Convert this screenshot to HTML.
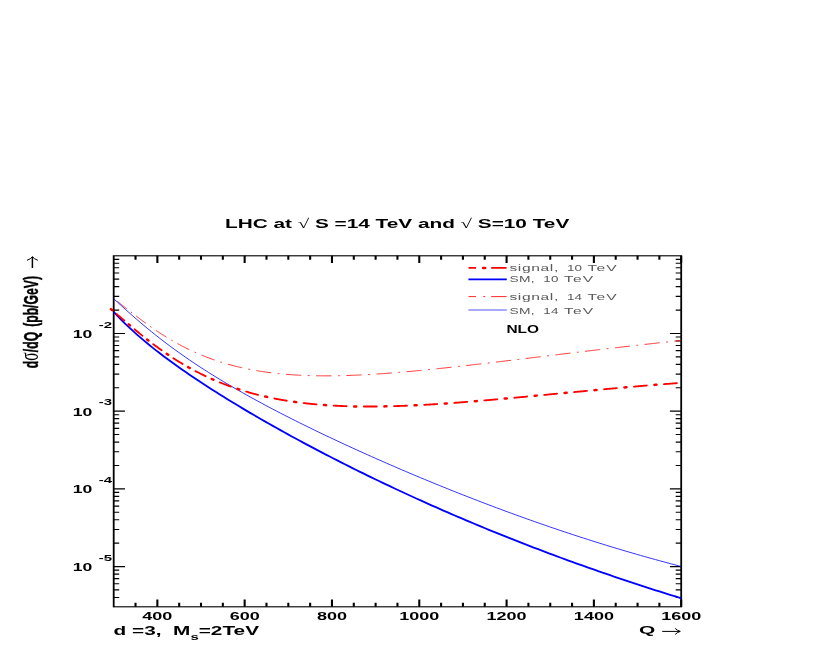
<!DOCTYPE html>
<html><head><meta charset="utf-8"><title>plot</title>
<style>html,body{margin:0;padding:0;background:#fff}svg{display:block}text{font-family:"Liberation Sans",sans-serif}.sy{font-family:"Liberation Serif",serif;font-weight:normal}</style></head>
<body>
<svg width="817" height="654" viewBox="0 0 817 654" style="will-change:transform">
<rect width="817" height="654" fill="#fff"/>
<clipPath id="cpp"><rect x="113.7" y="255.8" width="567.5" height="351"/></clipPath>
<g transform="scale(1.6,1)" fill="none" stroke-linecap="butt">
<rect x="71.06" y="255.8" width="354.69" height="351" stroke="#000" stroke-width="1.12"/>
<path d="M84.7 606.8v-4M84.7 255.8v4M98.35 606.8v-7.3M98.35 255.8v7.3M111.99 606.8v-4M111.99 255.8v4M125.63 606.8v-4M125.63 255.8v4M139.27 606.8v-4M139.27 255.8v4M152.91 606.8v-7.3M152.91 255.8v7.3M166.56 606.8v-4M166.56 255.8v4M180.2 606.8v-4M180.2 255.8v4M193.84 606.8v-4M193.84 255.8v4M207.48 606.8v-7.3M207.48 255.8v7.3M221.12 606.8v-4M221.12 255.8v4M234.76 606.8v-4M234.76 255.8v4M248.41 606.8v-4M248.41 255.8v4M262.05 606.8v-7.3M262.05 255.8v7.3M275.69 606.8v-4M275.69 255.8v4M289.33 606.8v-4M289.33 255.8v4M302.97 606.8v-4M302.97 255.8v4M316.62 606.8v-7.3M316.62 255.8v7.3M330.26 606.8v-4M330.26 255.8v4M343.9 606.8v-4M343.9 255.8v4M357.54 606.8v-4M357.54 255.8v4M371.18 606.8v-7.3M371.18 255.8v7.3M384.82 606.8v-4M384.82 255.8v4M398.47 606.8v-4M398.47 255.8v4M412.11 606.8v-4M412.11 255.8v4M425.75 606.8v-7.3M425.75 255.8v7.3" stroke="#000" stroke-width="1.3"/>
<path d="M71.06 597.47h3.44M425.75 597.47h-3.44M71.06 589.94h3.44M425.75 589.94h-3.44M71.06 583.79h3.44M425.75 583.79h-3.44M71.06 578.59h3.44M425.75 578.59h-3.44M71.06 574.08h3.44M425.75 574.08h-3.44M71.06 570.11h3.44M425.75 570.11h-3.44M71.06 566.55h7.06M425.75 566.55h-7.06M71.06 543.16h3.44M425.75 543.16h-3.44M71.06 529.48h3.44M425.75 529.48h-3.44M71.06 519.77h3.44M425.75 519.77h-3.44M71.06 512.24h3.44M425.75 512.24h-3.44M71.06 506.09h3.44M425.75 506.09h-3.44M71.06 500.89h3.44M425.75 500.89h-3.44M71.06 496.38h3.44M425.75 496.38h-3.44M71.06 492.41h3.44M425.75 492.41h-3.44M71.06 488.85h7.06M425.75 488.85h-7.06M71.06 465.46h3.44M425.75 465.46h-3.44M71.06 451.78h3.44M425.75 451.78h-3.44M71.06 442.07h3.44M425.75 442.07h-3.44M71.06 434.54h3.44M425.75 434.54h-3.44M71.06 428.39h3.44M425.75 428.39h-3.44M71.06 423.19h3.44M425.75 423.19h-3.44M71.06 418.68h3.44M425.75 418.68h-3.44M71.06 414.71h3.44M425.75 414.71h-3.44M71.06 411.15h7.06M425.75 411.15h-7.06M71.06 387.76h3.44M425.75 387.76h-3.44M71.06 374.08h3.44M425.75 374.08h-3.44M71.06 364.37h3.44M425.75 364.37h-3.44M71.06 356.84h3.44M425.75 356.84h-3.44M71.06 350.69h3.44M425.75 350.69h-3.44M71.06 345.49h3.44M425.75 345.49h-3.44M71.06 340.98h3.44M425.75 340.98h-3.44M71.06 337.01h3.44M425.75 337.01h-3.44M71.06 333.45h7.06M425.75 333.45h-7.06M71.06 310.06h3.44M425.75 310.06h-3.44M71.06 296.38h3.44M425.75 296.38h-3.44M71.06 286.67h3.44M425.75 286.67h-3.44M71.06 279.14h3.44M425.75 279.14h-3.44M71.06 272.99h3.44M425.75 272.99h-3.44M71.06 267.79h3.44M425.75 267.79h-3.44M71.06 263.28h3.44M425.75 263.28h-3.44M71.06 259.31h3.44M425.75 259.31h-3.44" stroke="#000" stroke-width="1.15"/>
</g>
<g fill="none" clip-path="url(#cpp)">
<path d="M111.73 297.24 L111.95 297.4 L112.9 298.09 L112.98 298.15M117.13 301.26 L117.66 301.67 L118.62 302.39 L119.57 303.13 L120.52 303.86 L121.47 304.6 L122.42 305.34 L123.37 306.08 L124.33 306.82 L125.28 307.56 L126.23 308.31 L126.78 308.73M130.84 311.9 L130.99 312.02 L131.94 312.76 L132.04 312.83M136.13 315.98 L136.7 316.42 L137.65 317.15 L138.61 317.87 L139.56 318.59 L140.51 319.31 L141.46 320.02 L142.41 320.73 L143.37 321.43 L144.32 322.13 L145.27 322.83 L145.98 323.35M150.24 326.4 L150.98 326.93 L151.52 327.3M155.88 330.3 L156.69 330.85 L157.64 331.49 L158.6 332.12 L159.55 332.75 L160.5 333.37 L161.45 333.98 L162.4 334.6 L163.36 335.2 L164.31 335.8 L165.26 336.4 L166.21 336.99 L166.56 337.2M171.24 340.01 L171.92 340.41 L172.64 340.83M177.46 343.55 L177.63 343.64 L178.59 344.16 L179.54 344.68 L180.49 345.19 L181.44 345.69 L182.39 346.19 L183.35 346.68 L184.3 347.17 L185.25 347.65 L186.2 348.13 L187.15 348.6 L188.11 349.06 L189.06 349.53 L189.31 349.65M194.52 352.07 L194.77 352.18 L195.72 352.61 L196.08 352.77M201.43 355.05 L202.38 355.44 L203.34 355.83 L204.29 356.21 L205.24 356.59 L206.19 356.96 L207.14 357.32 L208.1 357.68 L209.05 358.04 L210 358.39 L210.95 358.74 L211.9 359.09 L212.86 359.42 L213.81 359.76 L214.57 360.02M220.31 361.92 L220.47 361.97 L221.42 362.27 L222.02 362.46M227.89 364.19 L228.09 364.25 L229.04 364.52 L229.99 364.78 L230.94 365.04 L231.89 365.29 L232.85 365.54 L233.8 365.79 L234.75 366.03 L235.7 366.27 L236.65 366.51 L237.61 366.74 L238.56 366.97 L239.51 367.19 L240.46 367.41 L241.41 367.63 L242.12 367.79M248.27 369.09 L249.03 369.24 L249.98 369.43 L250.1 369.45M256.33 370.59 L256.64 370.64 L257.6 370.8 L258.55 370.96 L259.5 371.12 L260.45 371.27 L261.4 371.42 L262.36 371.56 L263.31 371.7 L264.26 371.84 L265.21 371.98 L266.16 372.12 L267.11 372.25 L268.07 372.38 L269.02 372.5 L269.97 372.62 L270.92 372.74 L271.27 372.79M277.66 373.52 L278.54 373.61 L279.49 373.71 L279.55 373.71M285.97 374.3 L286.15 374.32 L287.11 374.4 L288.06 374.47 L289.01 374.55 L289.96 374.62 L290.91 374.69 L291.86 374.75 L292.82 374.82 L293.77 374.88 L294.72 374.94 L295.67 375 L296.62 375.05 L297.58 375.11 L298.53 375.16 L299.48 375.21 L300.43 375.25 L301.25 375.29M307.72 375.55 L308.05 375.57 L309 375.6 L309.64 375.62M316.12 375.77 L316.61 375.78 L317.57 375.79 L318.52 375.8 L319.47 375.81 L320.42 375.82 L321.37 375.83 L322.33 375.84 L323.28 375.84 L324.23 375.85 L325.18 375.85 L326.13 375.85 L327.09 375.85 L328.04 375.85 L328.99 375.84 L329.94 375.84 L330.89 375.83 L331.48 375.82M337.97 375.73 L338.51 375.72 L339.46 375.7 L339.88 375.69M346.37 375.52 L347.08 375.5 L348.03 375.47 L348.98 375.43 L349.93 375.4 L350.88 375.37 L351.84 375.33 L352.79 375.29 L353.74 375.26 L354.69 375.22 L355.64 375.18 L356.6 375.14 L357.55 375.09 L358.5 375.05 L359.45 375.01 L360.4 374.96 L361.35 374.92 L361.69 374.9M368.16 374.55 L368.97 374.51 L369.92 374.45 L370.07 374.44M376.53 374.05 L376.59 374.04 L377.54 373.98 L378.49 373.92 L379.44 373.85 L380.39 373.79 L381.35 373.72 L382.3 373.66 L383.25 373.59 L384.2 373.52 L385.15 373.45 L386.1 373.38 L387.06 373.31 L388.01 373.24 L388.96 373.17 L389.91 373.1 L390.86 373.02 L391.79 372.95M398.22 372.44 L398.48 372.41 L399.43 372.34 L400.12 372.28M406.55 371.72 L407.05 371.68 L408 371.59 L408.95 371.51 L409.9 371.42 L410.85 371.34 L411.81 371.25 L412.76 371.16 L413.71 371.08 L414.66 370.99 L415.61 370.9 L416.57 370.81 L417.52 370.72 L418.47 370.63 L419.42 370.54 L420.37 370.45 L421.33 370.35 L421.74 370.31M428.15 369.68 L428.94 369.6 L429.89 369.5 L430.05 369.49M436.45 368.83 L436.56 368.82 L437.51 368.72 L438.46 368.62 L439.41 368.52 L440.36 368.42 L441.32 368.32 L442.27 368.22 L443.22 368.12 L444.17 368.02 L445.12 367.92 L446.08 367.81 L447.03 367.71 L447.98 367.61 L448.93 367.5 L449.88 367.4 L450.84 367.3 L451.59 367.21M457.98 366.51 L458.45 366.46 L459.4 366.35 L459.87 366.3M466.26 365.58 L467.02 365.49 L467.97 365.38 L468.92 365.27 L469.87 365.16 L470.83 365.05 L471.78 364.94 L472.73 364.83 L473.68 364.73 L474.63 364.62 L475.59 364.51 L476.54 364.39 L477.49 364.28 L478.44 364.17 L479.39 364.06 L480.34 363.95 L481.3 363.84 L481.36 363.83M487.74 363.08 L487.96 363.06 L488.91 362.94 L489.62 362.86M496 362.1 L496.53 362.04 L497.48 361.93 L498.43 361.81 L499.38 361.7 L500.34 361.59 L501.29 361.47 L502.24 361.36 L503.19 361.24 L504.14 361.13 L505.09 361.01 L506.05 360.9 L507 360.79 L507.95 360.67 L508.9 360.56 L509.85 360.44 L510.81 360.33 L511.08 360.29M517.45 359.52 L517.47 359.52 L518.42 359.41 L519.34 359.3M525.71 358.52 L526.04 358.48 L526.99 358.37 L527.94 358.25 L528.89 358.14 L529.84 358.02 L530.8 357.9 L531.75 357.79 L532.7 357.67 L533.65 357.56 L534.6 357.44 L535.56 357.33 L536.51 357.21 L537.46 357.09 L538.41 356.98 L539.36 356.86 L540.32 356.75 L540.78 356.69M547.15 355.92 L547.93 355.82 L548.88 355.71 L549.04 355.69M555.4 354.91 L555.55 354.9 L556.5 354.78 L557.45 354.67 L558.4 354.55 L559.35 354.43 L560.31 354.32 L561.26 354.2 L562.21 354.09 L563.16 353.97 L564.11 353.86 L565.07 353.74 L566.02 353.63 L566.97 353.51 L567.92 353.4 L568.87 353.28 L569.83 353.17 L570.49 353.09M576.86 352.32 L577.44 352.25 L578.39 352.14 L578.74 352.1M585.11 351.33 L586.01 351.23 L586.96 351.11 L587.91 351 L588.86 350.89 L589.82 350.77 L590.77 350.66 L591.72 350.55 L592.67 350.43 L593.62 350.32 L594.58 350.21 L595.53 350.1 L596.48 349.98 L597.43 349.87 L598.38 349.76 L599.33 349.65 L600.2 349.54M606.58 348.79 L606.95 348.75 L607.9 348.64 L608.47 348.57M614.85 347.83 L615.52 347.75 L616.47 347.64 L617.42 347.53 L618.37 347.42 L619.33 347.31 L620.28 347.2 L621.23 347.09 L622.18 346.98 L623.13 346.87 L624.08 346.76 L625.04 346.65 L625.99 346.54 L626.94 346.43 L627.89 346.32 L628.84 346.21 L629.8 346.11 L629.95 346.09M636.33 345.36 L636.46 345.35 L637.41 345.24 L638.22 345.15M644.61 344.43 L645.03 344.38 L645.98 344.27 L646.93 344.17 L647.88 344.06 L648.83 343.96 L649.79 343.85 L650.74 343.74 L651.69 343.64 L652.64 343.53 L653.59 343.43 L654.55 343.32 L655.5 343.22 L656.45 343.11 L657.4 343.01 L658.35 342.9 L659.31 342.8 L659.73 342.75M666.12 342.05 L666.92 341.96 L667.87 341.86 L668.01 341.84M674.41 341.15 L674.54 341.14 L675.49 341.04 L676.44 340.94 L677.39 340.83 L678.34 340.73 L679.3 340.63 L680.25 340.53 L681.2 340.43" stroke="#ff0000" stroke-width="0.8"/>
<path d="M113.7 298.71 L117.49 302.18 L121.28 305.64 L125.07 309.06 L128.86 312.46 L132.65 315.81 L136.44 319.11 L140.23 322.37 L144.02 325.57 L147.81 328.72 L151.6 331.82 L155.39 334.86 L159.18 337.85 L162.97 340.78 L166.76 343.66 L170.54 346.5 L174.33 349.28 L178.12 352.01 L181.91 354.7 L185.7 357.35 L189.49 359.95 L193.28 362.51 L197.07 365.03 L200.86 367.51 L204.65 369.95 L208.44 372.36 L212.23 374.74 L216.02 377.08 L219.81 379.39 L223.6 381.68 L227.39 383.93 L231.18 386.16 L234.97 388.36 L238.76 390.54 L242.55 392.69 L246.34 394.82 L250.13 396.93 L253.92 399.02 L257.71 401.08 L261.5 403.13 L265.29 405.16 L269.08 407.17 L272.87 409.16 L276.65 411.14 L280.44 413.1 L284.23 415.05 L288.02 416.98 L291.81 418.9 L295.6 420.8 L299.39 422.7 L303.18 424.57 L306.97 426.44 L310.76 428.29 L314.55 430.13 L318.34 431.96 L322.13 433.78 L325.92 435.59 L329.71 437.38 L333.5 439.17 L337.29 440.95 L341.08 442.71 L344.87 444.47 L348.66 446.22 L352.45 447.95 L356.24 449.68 L360.03 451.4 L363.82 453.11 L367.61 454.81 L371.4 456.51 L375.19 458.19 L378.98 459.87 L382.77 461.53 L386.55 463.19 L390.34 464.84 L394.13 466.48 L397.92 468.12 L401.71 469.74 L405.5 471.36 L409.29 472.97 L413.08 474.57 L416.87 476.16 L420.66 477.75 L424.45 479.32 L428.24 480.89 L432.03 482.45 L435.82 484 L439.61 485.55 L443.4 487.09 L447.19 488.61 L450.98 490.14 L454.77 491.65 L458.56 493.15 L462.35 494.65 L466.14 496.14 L469.93 497.62 L473.72 499.09 L477.51 500.55 L481.3 502.01 L485.09 503.46 L488.88 504.9 L492.66 506.33 L496.45 507.75 L500.24 509.17 L504.03 510.57 L507.82 511.97 L511.61 513.36 L515.4 514.74 L519.19 516.11 L522.98 517.48 L526.77 518.83 L530.56 520.18 L534.35 521.52 L538.14 522.85 L541.93 524.17 L545.72 525.48 L549.51 526.79 L553.3 528.08 L557.09 529.37 L560.88 530.65 L564.67 531.92 L568.46 533.18 L572.25 534.43 L576.04 535.67 L579.83 536.9 L583.62 538.13 L587.41 539.34 L591.2 540.55 L594.99 541.75 L598.78 542.93 L602.56 544.11 L606.35 545.28 L610.14 546.44 L613.93 547.59 L617.72 548.73 L621.51 549.87 L625.3 550.99 L629.09 552.1 L632.88 553.21 L636.67 554.3 L640.46 555.39 L644.25 556.46 L648.04 557.53 L651.83 558.59 L655.62 559.64 L659.41 560.67 L663.2 561.7 L666.99 562.72 L670.78 563.73 L674.57 564.73 L678.36 565.72 L681.2 566.45" stroke="#0000ff" stroke-width="0.8"/>
<path d="M113.7 311.91 L117.49 315.94 L121.28 319.82 L125.07 323.57 L128.86 327.18 L132.65 330.69 L136.44 334.09 L140.23 337.4 L144.02 340.63 L147.81 343.77 L151.6 346.85 L155.39 349.86 L159.18 352.81 L162.97 355.7 L166.76 358.54 L170.54 361.34 L174.33 364.09 L178.12 366.79 L181.91 369.46 L185.7 372.1 L189.49 374.69 L193.28 377.26 L197.07 379.8 L200.86 382.31 L204.65 384.79 L208.44 387.24 L212.23 389.67 L216.02 392.08 L219.81 394.46 L223.6 396.83 L227.39 399.17 L231.18 401.49 L234.97 403.8 L238.76 406.08 L242.55 408.35 L246.34 410.6 L250.13 412.84 L253.92 415.06 L257.71 417.26 L261.5 419.45 L265.29 421.62 L269.08 423.78 L272.87 425.92 L276.65 428.05 L280.44 430.17 L284.23 432.27 L288.02 434.36 L291.81 436.44 L295.6 438.5 L299.39 440.56 L303.18 442.6 L306.97 444.63 L310.76 446.64 L314.55 448.65 L318.34 450.64 L322.13 452.62 L325.92 454.59 L329.71 456.55 L333.5 458.5 L337.29 460.43 L341.08 462.36 L344.87 464.28 L348.66 466.18 L352.45 468.07 L356.24 469.96 L360.03 471.83 L363.82 473.69 L367.61 475.55 L371.4 477.39 L375.19 479.22 L378.98 481.04 L382.77 482.86 L386.55 484.66 L390.34 486.45 L394.13 488.23 L397.92 490.01 L401.71 491.77 L405.5 493.53 L409.29 495.27 L413.08 497 L416.87 498.73 L420.66 500.45 L424.45 502.15 L428.24 503.85 L432.03 505.54 L435.82 507.22 L439.61 508.89 L443.4 510.55 L447.19 512.2 L450.98 513.84 L454.77 515.48 L458.56 517.1 L462.35 518.72 L466.14 520.32 L469.93 521.92 L473.72 523.51 L477.51 525.09 L481.3 526.66 L485.09 528.23 L488.88 529.78 L492.66 531.33 L496.45 532.87 L500.24 534.4 L504.03 535.92 L507.82 537.43 L511.61 538.94 L515.4 540.43 L519.19 541.92 L522.98 543.4 L526.77 544.87 L530.56 546.33 L534.35 547.79 L538.14 549.23 L541.93 550.67 L545.72 552.1 L549.51 553.53 L553.3 554.94 L557.09 556.35 L560.88 557.75 L564.67 559.14 L568.46 560.52 L572.25 561.9 L576.04 563.27 L579.83 564.63 L583.62 565.98 L587.41 567.32 L591.2 568.66 L594.99 569.99 L598.78 571.31 L602.56 572.63 L606.35 573.93 L610.14 575.23 L613.93 576.53 L617.72 577.81 L621.51 579.09 L625.3 580.36 L629.09 581.62 L632.88 582.88 L636.67 584.13 L640.46 585.37 L644.25 586.6 L648.04 587.83 L651.83 589.05 L655.62 590.26 L659.41 591.47 L663.2 592.67 L666.99 593.86 L670.78 595.05 L674.57 596.23 L678.36 597.4 L681.2 598.27" stroke="#0000ff" stroke-width="1.85"/>
</g>
<path d="M111 309.15 L111.95 309.96 L112.18 310.16M128.75 324.41 L129.02 324.63 L129.96 325.44 L129.98 325.45M147.09 339.45 L147.98 340.14 L148.39 340.46M166.73 353.82 L166.95 353.97 L167.89 354.61 L168.14 354.78M188.19 367.15 L188.76 367.47 L189.7 368 L189.74 368.01M211.77 378.98 L212.46 379.29 L213.41 379.7 L213.47 379.73M237.52 388.88 L238.07 389.06 L239.01 389.37 L239.36 389.48M265.17 396.52 L265.56 396.61 L266.51 396.83 L267.12 396.96M294.18 401.84 L294.96 401.95 L295.91 402.08 L296.21 402.12M323.99 405.01 L324.36 405.04 L325.3 405.11 L326.06 405.16M354.16 406.4 L354.7 406.41 L355.65 406.43 L356.24 406.44M384.41 406.39 L385.04 406.37 L385.99 406.35 L386.49 406.34M414.62 405.33 L415.39 405.3 L416.34 405.25 L416.69 405.23M444.74 403.54 L444.78 403.54 L445.73 403.47 L446.68 403.41 L446.8 403.4M474.77 401.24 L475.13 401.21 L476.08 401.13 L476.83 401.07M504.73 398.62 L505.47 398.56 L506.42 398.47 L506.79 398.44M534.65 395.83 L534.87 395.81 L535.81 395.72 L536.71 395.63M564.56 392.98 L565.21 392.92 L566.16 392.83 L566.62 392.78M594.48 390.16 L594.61 390.15 L595.55 390.06 L596.5 389.97 L596.54 389.97M624.43 387.45 L624.95 387.41 L625.9 387.33 L626.49 387.27M654.41 384.92 L655.29 384.85 L656.24 384.77 L656.47 384.75" fill="none" stroke="#ff0000" stroke-width="2.5" stroke-linecap="round"/>
<path d="M116.66 314.01 L116.69 314.03 L117.64 314.85 L118.59 315.67 L119.53 316.49 L120.48 317.31 L121.43 318.13 L122.38 318.94 L123.33 319.76 L124.26 320.57M134.52 329.27 L134.71 329.43 L135.65 330.22 L136.6 331 L137.55 331.78 L138.5 332.56 L139.45 333.34 L140.4 334.11 L141.34 334.88 L142.29 335.64 L142.38 335.71M153.21 344.14 L153.67 344.49 L154.62 345.2 L155.57 345.9 L156.52 346.6 L157.46 347.29 L158.41 347.98 L159.36 348.67 L160.31 349.35 L161.26 350.02 L161.64 350.29M173.38 358.22 L173.58 358.35 L174.53 358.96 L175.48 359.56 L176.43 360.16 L177.38 360.75 L178.33 361.34 L179.27 361.92 L180.22 362.49 L181.17 363.07 L182.12 363.63 L182.6 363.92M195.5 371.12 L196.34 371.56 L197.29 372.05 L198.24 372.54 L199.19 373.02 L200.14 373.5 L201.08 373.97 L202.03 374.44 L202.98 374.9 L203.93 375.36 L204.88 375.81 L205.63 376.17M219.78 382.38 L220.05 382.49 L221 382.87 L221.94 383.24 L222.89 383.62 L223.84 383.99 L224.79 384.35 L225.74 384.71 L226.69 385.07 L227.63 385.42 L228.58 385.77 L229.53 386.12 L230.48 386.46 L230.85 386.59M246.19 391.58 L246.6 391.7 L247.55 391.98 L248.5 392.25 L249.44 392.52 L250.39 392.79 L251.34 393.05 L252.29 393.31 L253.24 393.57 L254.19 393.82 L255.13 394.07 L256.08 394.32 L257.03 394.56 L257.98 394.8 L258.06 394.82M274.34 398.47 L275.05 398.62 L275.99 398.8 L276.94 398.98 L277.89 399.16 L278.84 399.34 L279.79 399.51 L280.74 399.68 L281.68 399.85 L282.63 400.02 L283.58 400.18 L284.53 400.34 L285.48 400.5 L286.43 400.66 L286.79 400.72M303.67 403.07 L304.44 403.17 L305.39 403.27 L306.34 403.38 L307.29 403.49 L308.24 403.59 L309.18 403.69 L310.13 403.79 L311.08 403.89 L312.03 403.98 L312.98 404.08 L313.92 404.17 L314.87 404.26 L315.82 404.34 L316.45 404.4M333.63 405.63 L333.84 405.64 L334.79 405.69 L335.73 405.74 L336.68 405.79 L337.63 405.84 L338.58 405.88 L339.53 405.93 L340.48 405.97 L341.42 406.01 L342.37 406.04 L343.32 406.08 L344.27 406.12 L345.22 406.15 L346.17 406.18 L346.56 406.2M363.85 406.53 L364.18 406.53 L365.13 406.53 L366.08 406.54 L367.03 406.54 L367.97 406.54 L368.92 406.54 L369.87 406.54 L370.82 406.54 L371.77 406.54 L372.72 406.53 L373.66 406.53 L374.61 406.52 L375.56 406.51 L376.51 406.5 L376.81 406.5M394.09 406.15 L394.53 406.13 L395.47 406.1 L396.42 406.07 L397.37 406.04 L398.32 406.01 L399.27 405.98 L400.22 405.95 L401.16 405.91 L402.11 405.88 L403.06 405.84 L404.01 405.8 L404.96 405.76 L405.9 405.73 L406.85 405.69 L407.03 405.68M424.27 404.83 L424.87 404.8 L425.82 404.74 L426.77 404.69 L427.71 404.63 L428.66 404.58 L429.61 404.52 L430.56 404.46 L431.51 404.41 L432.46 404.35 L433.4 404.29 L434.35 404.23 L435.3 404.17 L436.25 404.11 L437.17 404.05M454.36 402.85 L455.21 402.79 L456.16 402.72 L457.11 402.65 L458.06 402.57 L459.01 402.5 L459.95 402.43 L460.9 402.36 L461.85 402.28 L462.8 402.21 L463.75 402.13 L464.7 402.06 L465.64 401.98 L466.59 401.91 L467.22 401.86M484.37 400.43 L484.61 400.41 L485.56 400.33 L486.51 400.25 L487.45 400.16 L488.4 400.08 L489.35 400 L490.3 399.92 L491.25 399.83 L492.2 399.75 L493.14 399.67 L494.09 399.58 L495.04 399.5 L495.99 399.41 L496.94 399.33 L497.2 399.3M514.32 397.74 L514.95 397.68 L515.9 397.6 L516.85 397.51 L517.8 397.42 L518.75 397.33 L519.69 397.24 L520.64 397.15 L521.59 397.06 L522.54 396.97 L523.49 396.89 L524.44 396.8 L525.38 396.71 L526.33 396.62 L527.13 396.54M544.23 394.92 L544.35 394.91 L545.3 394.82 L546.25 394.73 L547.19 394.64 L548.14 394.55 L549.09 394.45 L550.04 394.36 L550.99 394.27 L551.93 394.18 L552.88 394.09 L553.83 394 L554.78 393.91 L555.73 393.82 L556.68 393.73 L557.04 393.7M574.14 392.07 L574.69 392.02 L575.64 391.93 L576.59 391.84 L577.54 391.75 L578.49 391.66 L579.43 391.57 L580.38 391.48 L581.33 391.39 L582.28 391.3 L583.23 391.21 L584.18 391.12 L585.12 391.03 L586.07 390.94 L586.96 390.86M604.07 389.28 L604.09 389.28 L605.04 389.19 L605.98 389.1 L606.93 389.02 L607.88 388.93 L608.83 388.85 L609.78 388.76 L610.73 388.67 L611.67 388.59 L612.62 388.5 L613.57 388.42 L614.52 388.33 L615.47 388.25 L616.42 388.16 L616.89 388.12M634.02 386.62 L634.43 386.59 L635.38 386.5 L636.33 386.42 L637.28 386.34 L638.23 386.26 L639.17 386.18 L640.12 386.1 L641.07 386.02 L642.02 385.94 L642.97 385.86 L643.91 385.78 L644.86 385.7 L645.81 385.63 L646.76 385.55 L646.87 385.54M664.02 384.15 L664.78 384.09 L665.72 384.02 L666.67 383.94 L667.62 383.87 L668.57 383.8 L669.52 383.72 L670.47 383.65 L671.41 383.58 L672.36 383.51 L673.31 383.43 L674.26 383.36 L675.21 383.29 L676.16 383.22 L676.88 383.16" fill="none" stroke="#ff0000" stroke-width="1.85" stroke-linecap="round"/>
<path d="M468.6 267.9 h7.4 M491.2 267.9 h15.4" fill="none" stroke="#ff0000" stroke-width="1.65"/>
<path d="M483.1 267.9 h2" fill="none" stroke="#ff0000" stroke-width="2.5" stroke-linecap="round"/>
<path d="M468.4 279.4 H506.8" fill="none" stroke="#0000ff" stroke-width="1.65"/>
<path d="M468.6 296.6 h7.4 M483.3 296.6 h1.9 M491.2 296.6 h15.4" fill="none" stroke="#ff0000" stroke-width="0.85"/>
<path d="M468.4 310.0 H506.8" fill="none" stroke="#0000ff" stroke-width="0.68"/>
<text transform="translate(397.1,227.6) scale(1.6,1)" font-size="13" font-weight="bold" fill="#000" text-anchor="middle">LHC at <tspan class="sy">√</tspan> S =14 TeV and <tspan class="sy">√</tspan> S=10 TeV</text>
<text transform="translate(157.35,619.6) scale(1.7,1)" font-size="10.6" font-weight="bold" fill="#000" text-anchor="middle">400</text>
<text transform="translate(244.66,619.6) scale(1.7,1)" font-size="10.6" font-weight="bold" fill="#000" text-anchor="middle">600</text>
<text transform="translate(331.97,619.6) scale(1.7,1)" font-size="10.6" font-weight="bold" fill="#000" text-anchor="middle">800</text>
<text transform="translate(419.28,619.6) scale(1.7,1)" font-size="10.6" font-weight="bold" fill="#000" text-anchor="middle">1000</text>
<text transform="translate(506.58,619.6) scale(1.7,1)" font-size="10.6" font-weight="bold" fill="#000" text-anchor="middle">1200</text>
<text transform="translate(593.89,619.6) scale(1.7,1)" font-size="10.6" font-weight="bold" fill="#000" text-anchor="middle">1400</text>
<text transform="translate(681.2,619.6) scale(1.7,1)" font-size="10.6" font-weight="bold" fill="#000" text-anchor="middle">1600</text>
<text transform="translate(72.8,337.95) scale(1.66,1)" font-size="10.6" font-weight="bold" fill="#000" text-anchor="start">10</text>
<text transform="translate(98.8,327.55) scale(1.78,1)" font-size="8.4" font-weight="bold" fill="#000" text-anchor="start">-2</text>
<text transform="translate(72.8,415.65) scale(1.66,1)" font-size="10.6" font-weight="bold" fill="#000" text-anchor="start">10</text>
<text transform="translate(98.8,405.25) scale(1.78,1)" font-size="8.4" font-weight="bold" fill="#000" text-anchor="start">-3</text>
<text transform="translate(72.8,493.35) scale(1.66,1)" font-size="10.6" font-weight="bold" fill="#000" text-anchor="start">10</text>
<text transform="translate(98.8,482.95) scale(1.78,1)" font-size="8.4" font-weight="bold" fill="#000" text-anchor="start">-4</text>
<text transform="translate(72.8,571.05) scale(1.66,1)" font-size="10.6" font-weight="bold" fill="#000" text-anchor="start">10</text>
<text transform="translate(98.8,560.65) scale(1.78,1)" font-size="8.4" font-weight="bold" fill="#000" text-anchor="start">-5</text>
<text transform="translate(113.6,635) scale(1.6,1)" font-size="13" font-weight="bold" fill="#000" text-anchor="start">d =3,&#160; M<tspan font-size="9.36" dy="4.7">s</tspan><tspan dy="-4.7">=2TeV</tspan></text>
<text transform="translate(639,634.4) scale(1.77,1)" font-size="11.8" font-weight="bold" fill="#000" text-anchor="start">Q</text>
<path d="M662.2 631.4H680 M675.2 628.4Q677.4 630.6 680.3 631.4Q677.4 632.2 675.2 634.4" fill="none" stroke="#000" stroke-width="1"/>
<path d="M32.4 268V257" fill="none" stroke="#000" stroke-width="1.5"/><path d="M27 260.3Q30.8 259 32.4 256.6Q34 259 37.8 260.3" fill="none" stroke="#000" stroke-width="1"/>
<text transform="translate(506.4,333.3) scale(1.5,1)" font-size="10.3" font-weight="bold" fill="#000" text-anchor="start">NLO</text>
<text transform="translate(509.4,271.2) scale(1.7,1)" font-size="9.2" fill="#5a5a5a" textLength="28.76" lengthAdjust="spacing">signal,</text>
<text transform="translate(567,271.2) scale(1.46,1)" font-size="9.2" fill="#5a5a5a" textLength="10.33" lengthAdjust="spacing">10</text>
<text transform="translate(587.5,271.2) scale(1.7,1)" font-size="9.2" fill="#5a5a5a" textLength="17.12" lengthAdjust="spacing">TeV</text>
<text transform="translate(509.4,282.2) scale(1.5,1)" font-size="9.2" fill="#5a5a5a" textLength="16.82" lengthAdjust="spacing">SM,</text>
<text transform="translate(543.2,282.2) scale(1.46,1)" font-size="9.2" fill="#5a5a5a" textLength="10.53" lengthAdjust="spacing">10</text>
<text transform="translate(564,282.2) scale(1.7,1)" font-size="9.2" fill="#5a5a5a" textLength="17.12" lengthAdjust="spacing">TeV</text>
<text transform="translate(509.4,299.9) scale(1.7,1)" font-size="9.2" fill="#5a5a5a" textLength="28.76" lengthAdjust="spacing">signal,</text>
<text transform="translate(567,299.9) scale(1.46,1)" font-size="9.2" fill="#5a5a5a" textLength="10.33" lengthAdjust="spacing">14</text>
<text transform="translate(587.5,299.9) scale(1.7,1)" font-size="9.2" fill="#5a5a5a" textLength="17.12" lengthAdjust="spacing">TeV</text>
<text transform="translate(509.4,313.5) scale(1.5,1)" font-size="9.2" fill="#5a5a5a" textLength="16.82" lengthAdjust="spacing">SM,</text>
<text transform="translate(543.2,313.5) scale(1.46,1)" font-size="9.2" fill="#5a5a5a" textLength="10.53" lengthAdjust="spacing">14</text>
<text transform="translate(564,313.5) scale(1.7,1)" font-size="9.2" fill="#5a5a5a" textLength="17.12" lengthAdjust="spacing">TeV</text>
<text transform="translate(37.7,368.3) scale(1.72,1) rotate(-90)" font-size="12.2" font-weight="bold" fill="#000" stroke="#000" stroke-width="0.28">d<tspan class="sy" font-size="15.5" stroke="none">σ</tspan><tspan dx="0.3">/</tspan>dQ <tspan dx="1.6">(pb/GeV)</tspan></text>
</svg>
</body></html>
